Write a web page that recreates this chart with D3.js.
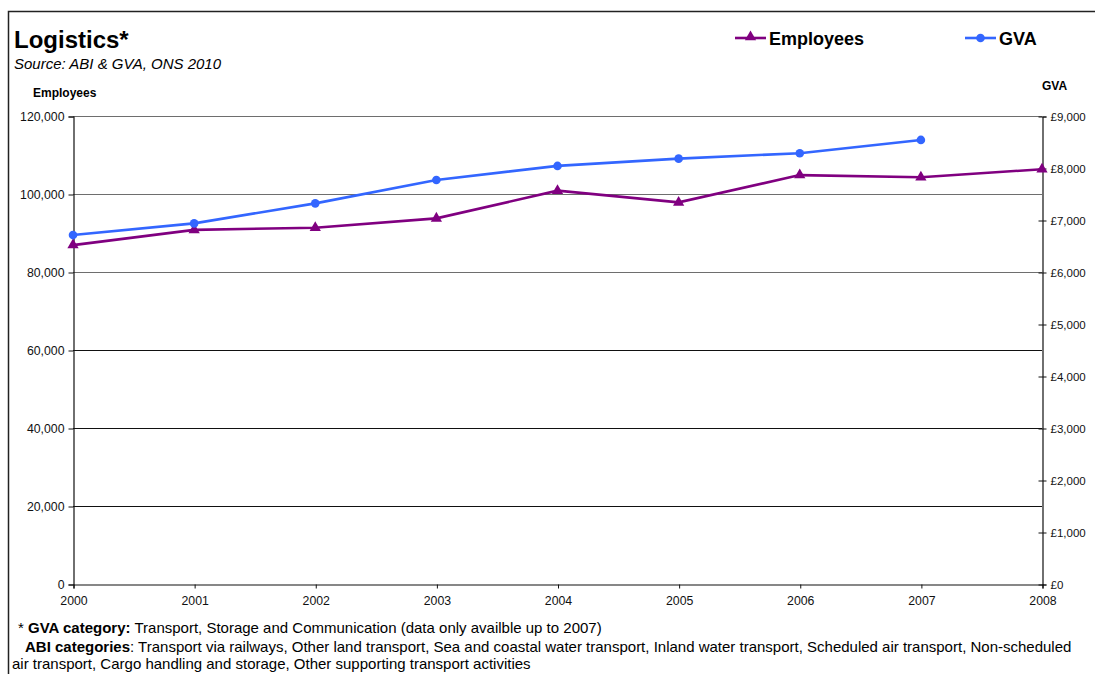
<!DOCTYPE html>
<html>
<head>
<meta charset="utf-8">
<script src="https://cdn.jsdelivr.net/npm/d3@7"></script>
<style>
  html, body { margin: 0; padding: 0; background: #fff; }
  svg { display: block; font-family: "Liberation Sans", Arial, sans-serif; }
</style>
</head>
<body>
<svg id="chart" width="1095" height="674"></svg>
<script>
// Years on the x axis
const years = [2000, 2001, 2002, 2003, 2004, 2005, 2006, 2007, 2008];
// Employees (left axis)
const employees = [86900, 90800, 91350, 93750, 100850, 97850, 104850, 104300, 106350];
// GVA in £ (right axis), available up to 2007
const gvaYears = [2000, 2001, 2002, 2003, 2004, 2005, 2006, 2007];
const gva = [6710, 6935, 7320, 7770, 8040, 8180, 8285, 8540];
// Axis ticks
const leftTicks = [0, 20000, 40000, 60000, 80000, 100000, 120000];
const rightTicks = [0, 1000, 2000, 3000, 4000, 5000, 6000, 7000, 8000, 9000];

const svg = d3.select("#chart");
const purple = "#800080";
const blue = "#3366ff";

const x0 = 73, x1 = 1042, yTop = 116, yBot = 584;
const x = d3.scaleLinear().domain([2000, 2008]).range([x0, x1]);
const yL = d3.scaleLinear().domain([0, 120000]).range([yBot, yTop]);
const yR = d3.scaleLinear().domain([0, 9000]).range([yBot, yTop]);

// Outer frame
svg.append("path")
  .attr("d", `M8.5,674 V11.5 H1095`)
  .attr("fill", "none").attr("stroke", "#222").attr("stroke-width", 1.5);

// Title block
svg.append("text").attr("x", 14).attr("y", 48)
  .attr("font-size", 24).attr("font-weight", "bold").text("Logistics*");
svg.append("text").attr("x", 14).attr("y", 69)
  .attr("font-size", 15).attr("font-style", "italic").text("Source: ABI & GVA, ONS 2010");

// Axis titles
svg.append("text").attr("x", 33).attr("y", 97)
  .attr("font-size", 12).attr("font-weight", "bold").text("Employees");
svg.append("text").attr("x", 1042).attr("y", 90)
  .attr("font-size", 12).attr("font-weight", "bold").text("GVA");

// Horizontal gridlines at left-axis ticks
svg.append("g").selectAll("line").data(leftTicks.filter(d => d > 0)).join("line")
  .attr("x1", x0).attr("x2", x1)
  .attr("y1", d => Math.round(yL(d)) + 0.5).attr("y2", d => Math.round(yL(d)) + 0.5)
  .attr("stroke", d => d >= 80000 ? "#6e6e6e" : "#111").attr("stroke-width", 1);

// Left axis
const axL = svg.append("g").attr("transform", `translate(${x0 + 0.5},0.5)`)
  .call(d3.axisLeft(yL).tickValues(leftTicks).tickSize(5).tickPadding(4)
    .tickFormat(d3.format(",")));
// Right axis
const axR = svg.append("g").attr("transform", `translate(${x1 + 0.5},0.5)`)
  .call(d3.axisRight(yR).tickValues(rightTicks).tickSize(4).tickPadding(4)
    .tickFormat(d => "£" + d3.format(",")(d)));
axR.selectAll(".tick line").attr("x1", -4);
// Bottom axis
const axB = svg.append("g").attr("transform", `translate(0.5,${yBot + 0.5})`)
  .call(d3.axisBottom(x).tickValues(years).tickSize(4).tickPadding(8)
    .tickFormat(d3.format("d")));

[[axL, 12.3], [axR, 11.5], [axB, 12.3]].forEach(([a, fs]) => {
  a.select(".domain").attr("stroke", "#111").attr("stroke-width", 1.2);
  a.selectAll(".tick line").attr("stroke", "#111");
  a.selectAll(".tick text").attr("font-size", fs).attr("fill", "#111")
    .attr("font-family", "Liberation Sans, Arial, sans-serif");
});

// Employees series
const empData = years.map((yr, i) => ({ yr, v: employees[i] }));
svg.append("path").datum(empData)
  .attr("d", d3.line().x(d => x(d.yr)).y(d => yL(d.v)))
  .attr("fill", "none").attr("stroke", purple).attr("stroke-width", 2.6);
const tri = d3.symbol().type(d3.symbolTriangle).size(55);
svg.append("g").selectAll("path").data(empData).join("path")
  .attr("transform", d => `translate(${x(d.yr)},${yL(d.v)})`)
  .attr("d", tri).attr("fill", purple);

// GVA series
const gvaData = gvaYears.map((yr, i) => ({ yr, v: gva[i] }));
svg.append("path").datum(gvaData)
  .attr("d", d3.line().x(d => x(d.yr)).y(d => yR(d.v)))
  .attr("fill", "none").attr("stroke", blue).attr("stroke-width", 2.6);
svg.append("g").selectAll("circle").data(gvaData).join("circle")
  .attr("cx", d => x(d.yr)).attr("cy", d => yR(d.v)).attr("r", 4.3)
  .attr("fill", blue);

// Legend
const legend = [
  { label: "Employees", color: purple, shape: "tri", lx: 735 },
  { label: "GVA", color: blue, shape: "circle", lx: 965 }
];
legend.forEach(l => {
  const g = svg.append("g");
  g.append("line").attr("x1", l.lx).attr("x2", l.lx + 31).attr("y1", 38).attr("y2", 38)
    .attr("stroke", l.color).attr("stroke-width", 2.6);
  if (l.shape === "tri") {
    g.append("path").attr("transform", `translate(${l.lx + 15.5},37)`).attr("d", tri).attr("fill", l.color);
  } else {
    g.append("circle").attr("cx", l.lx + 15.5).attr("cy", 38).attr("r", 4.3).attr("fill", l.color);
  }
  g.append("text").attr("x", l.lx + 34).attr("y", 44.5)
    .attr("font-size", 18).attr("font-weight", "bold").text(l.label);
});

// Footnotes
const notes = svg.append("g").attr("font-size", 15).attr("fill", "#000");
const n1 = notes.append("text").attr("x", 18).attr("y", 633);
n1.append("tspan").text("* ");
n1.append("tspan").attr("font-weight", "bold").text("GVA category:");
n1.append("tspan").text(" Transport, Storage and Communication (data only availble up to 2007)");
const n2 = notes.append("text").attr("x", 25).attr("y", 652);
n2.append("tspan").attr("font-weight", "bold").text("ABI categories");
n2.append("tspan").text(": Transport via railways, Other land transport, Sea and coastal water transport, Inland water transport, Scheduled air transport, Non-scheduled");
notes.append("text").attr("x", 12).attr("y", 669)
  .text("air transport, Cargo handling and storage, Other supporting transport activities");
</script>
</body>
</html>
